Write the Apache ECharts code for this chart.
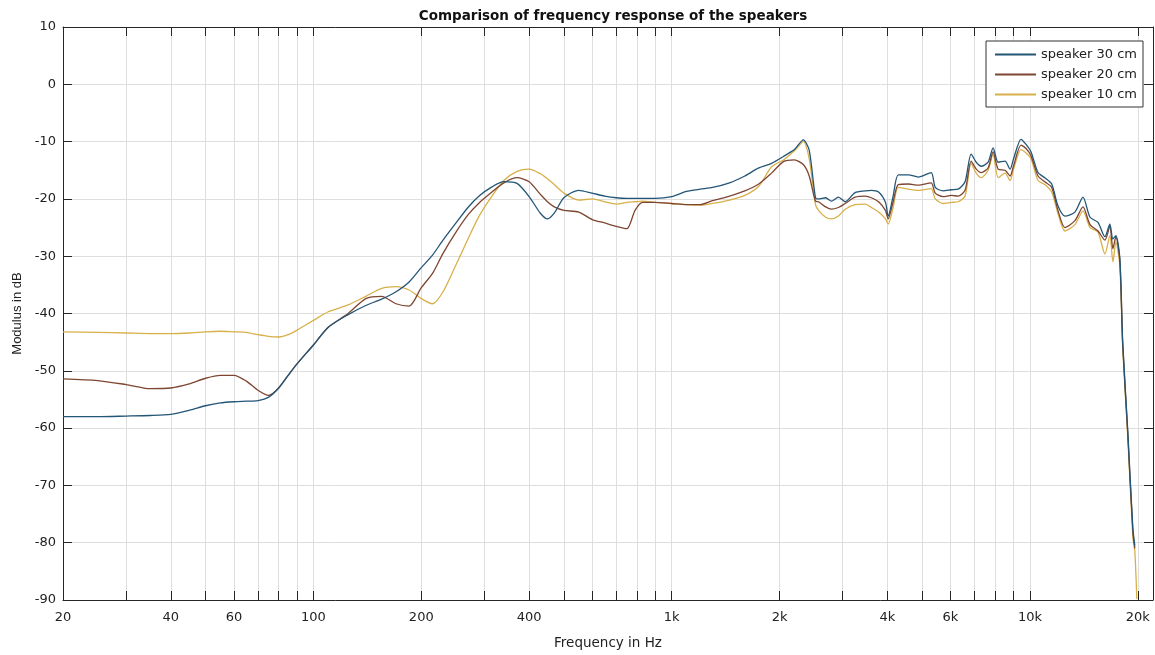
<!DOCTYPE html>
<html>
<head>
<meta charset="utf-8">
<title>Comparison of frequency response of the speakers</title>
<script src="https://cdn.jsdelivr.net/npm/echarts@6/dist/echarts.min.js"></script>
<style>
  html, body { margin: 0; padding: 0; background: #ffffff; }
  #chart { width: 1155px; height: 655px; }
</style>
</head>
<body>
<div id="chart"></div>
<script>
// Frequency points (Hz) shared by the three measured responses
const freqHz = [
  20, 25, 30, 35, 40, 45, 50, 55, 60, 65, 70, 75, 80, 85, 90, 100, 110, 125, 140, 155,
  170, 185, 200, 215, 230, 250, 270, 290, 315, 340, 370, 400, 430, 450, 470, 500, 550,
  600, 650, 700, 750, 790, 830, 900, 1000, 1100, 1200, 1300, 1450, 1600, 1750, 1900,
  2050, 2200, 2330, 2420, 2520, 2570, 2690, 2790, 2920, 3050, 3250, 3470, 3610, 3780,
  3950, 4020, 4150, 4290, 4580, 4880, 5300, 5440, 5720, 6030, 6300, 6590, 6850, 7080,
  7310, 7640, 7890, 8150, 8520, 8800, 9000, 9440, 9750, 10070, 10530, 11000, 11500,
  11970, 12520, 13350, 14060, 14710, 15480, 16190, 16710, 17040, 17370, 17820, 18150,
  18750, 19370, 19620, 19870
];

// Modulus in dB, one array per speaker (null = no measurement at that point)
const speaker30 = [
  -58.0, -58.0, -57.9, -57.8, -57.6, -56.9, -56.1, -55.6, -55.4, -55.3, -55.2, -54.6, -53.0, -50.8, -48.8, -45.5, -42.4, -40.2, -38.6, -37.5,
  -36.2, -34.5, -32.0, -29.8, -27.2, -24.2, -21.5, -19.5, -17.9, -17.0, -17.3, -19.6, -22.5, -23.5, -22.5, -19.8, -18.5,
  -19.0, -19.5, -19.8, -19.9, -19.9, -19.9, -19.9, -19.6, -18.7, -18.3, -18.0, -17.2, -16.0, -14.6, -13.8,
  -12.6, -11.4, -9.7, -11.5, -19.8, -20.0, -19.8, -20.4, -19.7, -20.5, -18.9, -18.6, -18.5, -18.8,
  -20.6, -23.0, -19.5, -15.8, -15.8, -16.2, -15.4, -18.0, -18.6, -18.4, -18.3, -17.0, -12.2, -13.6,
  -14.3, -13.6, -11.1, -13.6, -13.4, -14.8, -13.0, -9.6, -10.5, -11.8, -15.4, -16.3, -17.4,
  -21.2, -23.0, -22.3, -19.7, -23.2, -24.1, -26.6, -24.4, -27.0, -26.4, -30.4, -45.0,
  -60.5, -77.5, -80.5, null
];

const speaker20 = [
  -51.4, -51.7, -52.4, -53.1, -53.0, -52.3, -51.3, -50.8, -50.8, -51.8, -53.4, -54.3, -53.0, -50.8, -48.8, -45.5, -42.4, -40.0, -37.4, -37.0,
  -38.3, -38.7, -35.5, -33.0, -29.5, -25.8, -22.8, -20.7, -18.8, -17.2, -16.3, -17.0, -19.2, -20.5, -21.4, -22.0, -22.3,
  -23.6, -24.2, -24.8, -25.2, -22.0, -20.6, -20.6, -20.8, -21.0, -21.0, -20.3, -19.5, -18.6, -17.4, -15.5,
  -13.5, -13.2, -14.0, -16.0, -20.4, -20.5, -21.4, -21.8, -21.5, -20.8, -19.7, -19.5, -19.8, -20.5,
  -22.0, -23.5, -20.5, -17.5, -17.4, -17.6, -17.2, -19.0, -19.6, -19.4, -19.5, -18.5, -13.4, -14.8,
  -15.4, -14.6, -11.8, -14.8, -15.0, -16.0, -14.2, -10.6, -11.2, -12.5, -16.0, -17.0, -18.0,
  -22.0, -25.0, -23.8, -21.4, -24.5, -25.6, -27.2, -24.8, -28.7, -26.6, -30.8, -45.5,
  -61.0, -78.0, -81.0, null
];

const speaker10 = [
  -43.2, -43.3, -43.4, -43.5, -43.5, -43.4, -43.2, -43.1, -43.2, -43.3, -43.7, -44.0, -44.1, -43.7, -42.9, -41.2, -39.7, -38.5, -37.0, -35.6,
  -35.3, -35.9, -37.4, -38.3, -36.2, -31.5, -27.0, -23.0, -19.5, -16.8, -15.2, -14.8, -15.6, -16.5, -17.5, -19.0, -20.2,
  -20.0, -20.5, -20.9, -20.6, -20.5, -20.4, -20.6, -20.8, -21.0, -21.1, -20.8, -20.2, -19.4, -17.8, -14.4,
  -13.2, -11.6, -10.0, -13.0, -21.0, -22.0, -23.2, -23.5, -23.0, -21.8, -21.0, -20.9, -21.5, -22.3,
  -23.5, -24.4, -21.5, -18.0, -18.3, -18.5, -18.2, -20.0, -20.8, -20.6, -20.5, -19.5, -13.8, -15.5,
  -16.3, -15.0, -12.2, -16.3, -15.5, -16.8, -14.8, -11.4, -12.0, -13.0, -16.8, -17.5, -18.8,
  -22.5, -25.6, -24.5, -22.1, -25.0, -25.8, -29.6, -26.4, -31.0, -27.5, -31.8, -46.0,
  -61.5, -79.0, -81.5, -89.8
];

// Axis layout values
const freqMin = 20;
const freqMax = 22050;
const gridFreqs = [
  20, 30, 40, 50, 60, 70, 80, 90, 100,
  200, 300, 400, 500, 600, 700, 800, 900, 1000,
  2000, 3000, 4000, 5000, 6000, 7000, 8000, 9000, 10000, 20000
];
const labelFreqs = [20, 40, 60, 100, 200, 400, 1000, 2000, 4000, 6000, 10000, 20000];
const dbMin = -90, dbMax = 10, dbStep = 10;

const seriesNames = ['speaker 30 cm', 'speaker 20 cm', 'speaker 10 cm'];
const seriesColors = ['#235577', '#7e4530', '#d8b04a'];
const seriesValues = [speaker30, speaker20, speaker10];

function pairs(values) {
  return freqHz.map((f, i) => [f, values[i] === null ? '-' : values[i]]);
}

function freqLabel(v) {
  const n = Math.round(v);
  return n >= 1000 ? (n / 1000) + 'k' : String(n);
}

const axisColor = '#262626';
const gridColor = '#dedede';
const wideFont = '"DejaVu Sans", Verdana, sans-serif';
const narrowFont = '"Liberation Sans", Arial, Helvetica, sans-serif';

const chart = echarts.init(document.getElementById('chart'), null, { renderer: 'canvas' });

chart.setOption({
  animation: false,
  backgroundColor: '#ffffff',
  title: {
    text: 'Comparison of frequency response of the speakers',
    left: 608,
    textAlign: 'center',
    top: 4,
    textStyle: { fontFamily: wideFont, fontSize: 13.5, fontWeight: 'bold', color: '#111' }
  },
  legend: {
    orient: 'vertical',
    left: 986,
    top: 41,
    padding: [7, 6, 6, 8],
    itemGap: 7,
    itemWidth: 41,
    itemHeight: 14,
    borderColor: '#333',
    borderWidth: 1,
    backgroundColor: '#fff',
    itemStyle: { opacity: 0 },
    textStyle: { fontFamily: wideFont, fontSize: 13, color: '#222' },
    data: seriesNames
  },
  grid: { left: 63, right: 2, top: 27, bottom: 52, containLabel: false },
  xAxis: [
    {
      type: 'log',
      logBase: 10,
      min: freqMin,
      max: freqMax,
      name: 'Frequency in Hz',
      nameLocation: 'middle',
      nameGap: 36,
      nameTextStyle: { fontFamily: wideFont, fontSize: 13.5, color: '#222' },
      axisLine: { show: true, onZero: false, lineStyle: { color: axisColor, width: 1 } },
      axisTick: { show: true, inside: true, length: 9, customValues: gridFreqs, lineStyle: { color: axisColor } },
      axisLabel: { customValues: labelFreqs, formatter: freqLabel, fontFamily: wideFont, fontSize: 13, color: '#222', margin: 11 },
      splitLine: { show: true, lineStyle: { color: gridColor, width: 1 } },
      minorTick: { show: false },
      minorSplitLine: { show: false }
    },
    {
      type: 'log',
      logBase: 10,
      position: 'top',
      min: freqMin,
      max: freqMax,
      axisLine: { show: true, onZero: false, lineStyle: { color: axisColor, width: 1 } },
      axisTick: { show: true, inside: true, length: 9, customValues: gridFreqs, lineStyle: { color: axisColor } },
      axisLabel: { show: false },
      splitLine: { show: false }
    }
  ],
  yAxis: [
    {
      type: 'value',
      min: dbMin,
      max: dbMax,
      interval: dbStep,
      name: 'Modulus in dB',
      nameLocation: 'middle',
      nameGap: 36,
      nameTextStyle: { fontFamily: narrowFont, fontSize: 13, color: '#222' },
      axisLine: { show: true, onZero: false, lineStyle: { color: axisColor, width: 1 } },
      axisTick: { show: true, inside: true, length: 9, lineStyle: { color: axisColor } },
      axisLabel: { fontFamily: wideFont, fontSize: 13, color: '#222', margin: 7 },
      splitLine: { show: true, lineStyle: { color: gridColor, width: 1 } }
    },
    {
      type: 'value',
      position: 'right',
      min: dbMin,
      max: dbMax,
      interval: dbStep,
      axisLine: { show: true, onZero: false, lineStyle: { color: axisColor, width: 1 } },
      axisTick: { show: true, inside: true, length: 9, lineStyle: { color: axisColor } },
      axisLabel: { show: false },
      splitLine: { show: false }
    }
  ],
  series: seriesNames.map((name, i) => ({
    name,
    type: 'line',
    xAxisIndex: 0,
    yAxisIndex: 0,
    data: pairs(seriesValues[i]),
    symbol: 'none',
    smooth: 0.25,
    connectNulls: false,
    lineStyle: { color: seriesColors[i], width: 1.3 },
    itemStyle: { color: seriesColors[i] },
    z: 3 - i
  }))
});
</script>
</body>
</html>
